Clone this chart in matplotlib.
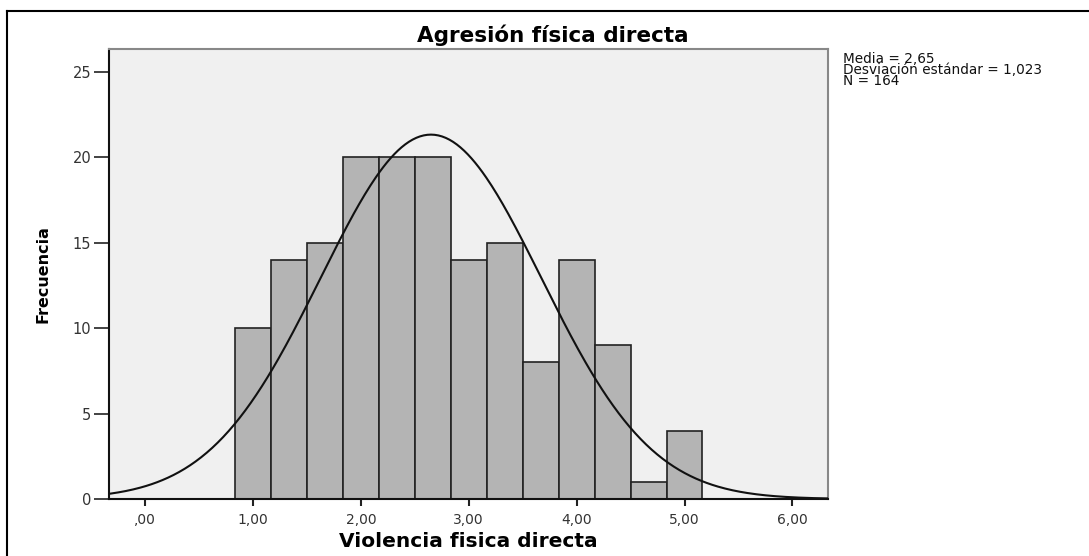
import numpy as np
import matplotlib
matplotlib.use("Agg")
import matplotlib.pyplot as plt
from matplotlib.lines import Line2D

# histogram data (bin width 1/3, centred on 1, 4/3, ... 5)
bin_centers = [1.0, 4/3, 5/3, 2.0, 7/3, 8/3, 3.0, 10/3, 11/3, 4.0, 13/3, 14/3, 5.0]
counts = [10, 14, 15, 20, 20, 20, 14, 15, 8, 14, 9, 1, 4]
bin_width = 1/3

mean = 2.65
sd = 1.023
n = 164

x_ticks = [0, 1, 2, 3, 4, 5, 6]
x_tick_labels = [",00", "1,00", "2,00", "3,00", "4,00", "5,00", "6,00"]
y_ticks = [0, 5, 10, 15, 20, 25]

plt.rcParams['font.family'] = ['DejaVu Sans']

fig = plt.figure(figsize=(10.89, 5.56), dpi=100)
ax = fig.add_axes([109.3/1089, 1 - 499/556, (827.7 - 109.3)/1089, (499 - 49.3)/556])
ax.set_facecolor('#F0F0F0')

ax.bar(bin_centers, counts, width=bin_width, color='#B4B4B4',
       edgecolor='#222222', linewidth=1.2, zorder=2)

xs = np.linspace(-0.4, 6.4, 400)
ys = n * bin_width / (sd * np.sqrt(2*np.pi)) * np.exp(-0.5*((xs - mean)/sd)**2)
ax.plot(xs, ys, color='#111111', linewidth=1.5, zorder=3)

ax.set_xlim(-0.331, 6.327)
ax.set_ylim(0, 26.31)

ax.set_xticks(x_ticks)
ax.set_xticklabels(x_tick_labels, fontsize=10, color='#333333')
ax.set_yticks(y_ticks)
ax.set_yticklabels([str(v) for v in y_ticks], fontsize=10.5, color='#333333')
ax.tick_params(axis='y', length=11, width=1.2, color='#222222', pad=2)
ax.tick_params(axis='x', length=5, width=1.5, color='#222222', pad=5)

for side in ['left', 'bottom']:
    ax.spines[side].set_color('#111111')
    ax.spines[side].set_linewidth(1.5)
for side in ['top', 'right']:
    ax.spines[side].set_color('#888888')
    ax.spines[side].set_linewidth(1.5)

# title sits over the whole chart, not just the axes
fig.text(553/1089, 1 - 35/556, "Agresión física directa", fontsize=15.5,
         fontweight='bold', ha='center', va='center')
ax.set_xlabel("Violencia fisica directa", fontsize=14.5, fontweight='bold', labelpad=4)
ax.set_ylabel("Frecuencia", fontsize=11.5, fontweight='bold', labelpad=16)

fig.text(843/1089, 1 - 52/556,
         "Media = 2,65\nDesviación estándar = 1,023\nN = 164",
         fontsize=9.8, va='top', ha='left', linespacing=0.72, color='#111111')

# outer frame (left and top edges only)
fig.add_artist(Line2D([7/1089, 7/1089], [0, 1 - 11/556], color='black', lw=1.5,
                      transform=fig.transFigure))
fig.add_artist(Line2D([7/1089, 1], [1 - 11/556, 1 - 11/556], color='black', lw=1.5,
                      transform=fig.transFigure))

fig.savefig("out.png", dpi=100)
